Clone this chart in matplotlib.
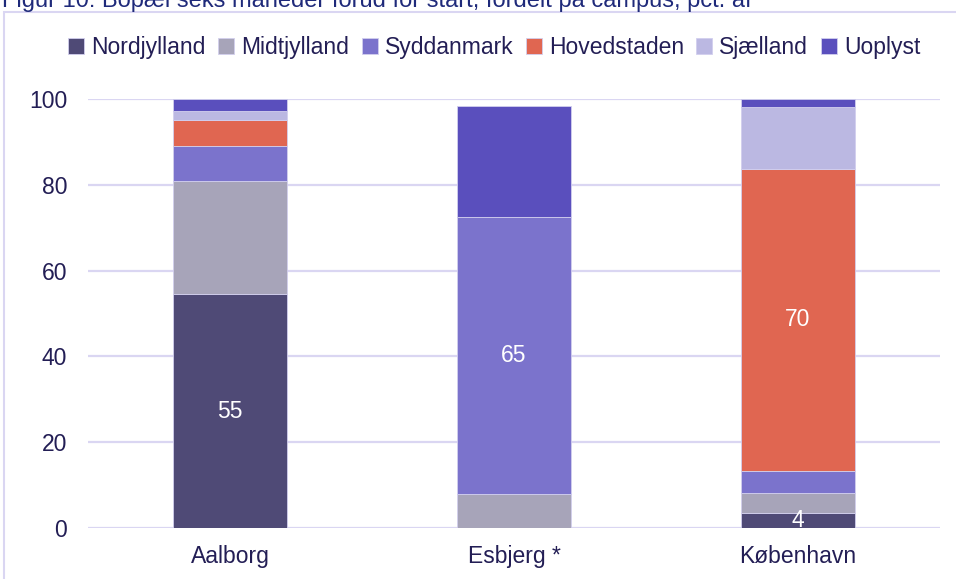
import numpy as np
import matplotlib.pyplot as plt
import matplotlib.patches as mpatches

plt.rcParams['font.family'] = ['Liberation Sans', 'DejaVu Sans']

campus = ['Aalborg', 'Esbjerg *', 'København']
regions = ['Nordjylland', 'Midtjylland', 'Syddanmark', 'Hovedstaden', 'Sjælland', 'Uoplyst']
nordjylland = [54.5, 0.0, 3.5]
midtjylland = [26.5, 8.0, 4.7]
syddanmark = [8.0, 64.6, 5.1]
hovedstaden = [6.0, 0.0, 70.4]
sjaelland = [2.2, 0.0, 14.5]
uoplyst = [2.8, 25.8, 1.8]
labels = {(0, 0): '55', (2, 1): '65', (3, 2): '70', (0, 2): '4'}

colors = ['#4F4A76', '#A7A4B9', '#7B73CC', '#E06651', '#BBB8E2', '#5A4FBD']
navy = '#231E55'
grid_col = '#DAD6F2'
fs = 16.5

fig = plt.figure(figsize=(9.56, 5.79), dpi=100)
ax = fig.add_axes([88 / 956, 51 / 579, 852 / 956, 429 / 579])

series = [nordjylland, midtjylland, syddanmark, hovedstaden, sjaelland, uoplyst]
x = np.arange(len(campus))
bottom = np.zeros(len(campus))
for i, (name, vals) in enumerate(zip(regions, series)):
    vals = np.array(vals)
    ax.bar(x, vals, 0.4, bottom=bottom, color=colors[i], label=name,
           edgecolor='#D2CFEE', linewidth=0.6, zorder=3)
    for j in range(len(campus)):
        if (i, j) in labels:
            yc = bottom[j] + vals[j] / 2
            ax.text(x[j], yc, labels[(i, j)], ha='center', va='center',
                    color='white', fontsize=fs, zorder=4)
    bottom += vals

ax.set_xlim(-0.5, 2.5)
ax.set_ylim(0, 100)
ax.set_yticks(range(0, 101, 20))
ax.set_xticks(x)
ax.set_xticklabels(campus)
ax.grid(axis='y', color=grid_col, linewidth=1.6, zorder=0)
for s in ax.spines.values():
    s.set_visible(False)
ax.tick_params(length=0, labelsize=fs, labelcolor=navy)
ax.tick_params(axis='y', pad=15)
ax.tick_params(axis='x', pad=12)

fig.legend(loc='center', bbox_to_anchor=(0.517, 0.918), ncol=6, frameon=False,
           fontsize=fs, labelcolor=navy, handlelength=0.7, handleheight=0.7,
           handletextpad=0.3, columnspacing=0.55, borderaxespad=0)

# outer frame of the chart box
fig.patches.append(mpatches.Rectangle((4 / 956, -0.1), 1.1, 1 - 12 / 579 + 0.1,
                                      transform=fig.transFigure, fill=False,
                                      edgecolor=grid_col, linewidth=1.5))

fig.text(0.002, 1 - 7 / 579, 'Figur 10: Bopæl seks måneder forud for start, fordelt på campus, pct. af',
         color='#1F2A7A', fontsize=17, va='baseline', ha='left')

fig.savefig('out.png', dpi=100)
